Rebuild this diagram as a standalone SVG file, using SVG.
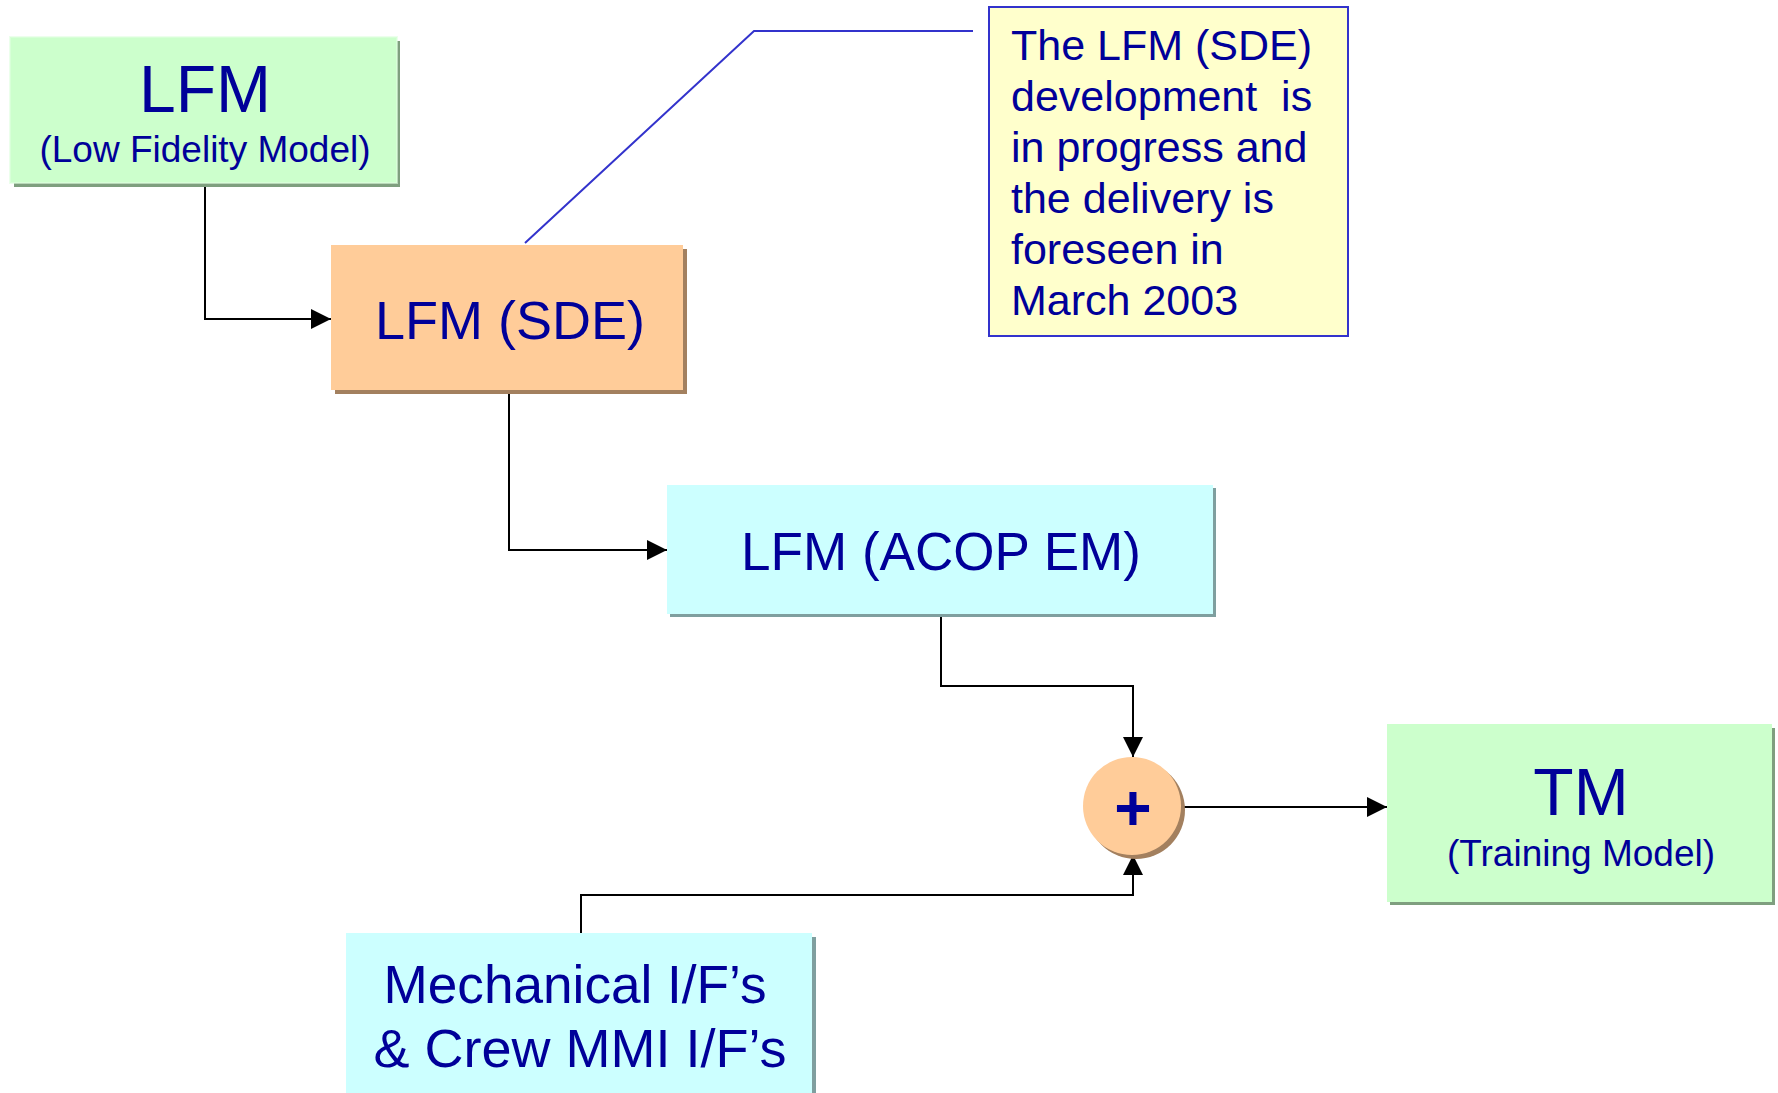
<svg xmlns="http://www.w3.org/2000/svg" width="1778" height="1093" viewBox="0 0 1778 1093">
<defs>
<style>
text{font-family:"Liberation Sans",Arial,sans-serif;fill:#000099;}
.c{text-anchor:middle;}
.conn{fill:none;stroke:#000;stroke-width:2;}
.green{fill:#ccffcc;}
.orange{fill:#ffcc99;}
.cyan{fill:#ccffff;}
.shg{fill:#7f9f7f;}
.sho{fill:#a3805f;}
.shc{fill:#7f9f9f;}
</style>
<marker id="arr" viewBox="0 0 20 20" refX="20" refY="10" markerWidth="20" markerHeight="20" markerUnits="userSpaceOnUse" orient="auto">
<path d="M0,0 L20,10 L0,20 Z" fill="#000"/>
</marker>
</defs>
<rect width="1778" height="1093" fill="#fff"/>

<g id="connectors">
<path class="conn" d="M205,184 V319 H331" marker-end="url(#arr)"/>
<path class="conn" d="M509,391 V550 H667" marker-end="url(#arr)"/>
<path class="conn" d="M941,616 V686 H1133 V757" marker-end="url(#arr)"/>
<path class="conn" d="M581,933 V895 H1133 V855" marker-end="url(#arr)"/>
<path class="conn" d="M1181,807 H1387" marker-end="url(#arr)"/>
<path d="M525,243 L754,31 H973" fill="none" stroke="#3333cc" stroke-width="2"/>
</g>

<g id="lfm">
<rect class="shg" x="14" y="41" width="386" height="146"/>
<rect class="green" x="10" y="37" width="387" height="146"/>
<rect x="10" y="37" width="387" height="146" fill="none" stroke="#e0ffe0" stroke-width="2" opacity="0.6"/>
<text class="c" x="205" y="112" font-size="66">LFM</text>
<text class="c" x="205" y="162" font-size="37">(Low Fidelity Model)</text>
</g>

<g id="lfm-sde">
<rect class="sho" x="335" y="249" width="352" height="145"/>
<rect class="orange" x="331" y="245" width="352" height="145"/>
<text class="c" x="510" y="339" font-size="54">LFM (SDE)</text>
</g>

<g id="lfm-acop">
<rect class="shc" x="670" y="488" width="546" height="129"/>
<rect class="cyan" x="667" y="485" width="546" height="129"/>
<text class="c" x="941" y="570" font-size="54" textLength="400" lengthAdjust="spacingAndGlyphs">LFM (ACOP EM)</text>
</g>

<g id="sum">
<circle cx="1136" cy="810" r="49" fill="#a3805f"/>
<circle cx="1132" cy="806" r="49" class="orange"/>
<text class="c" x="1133" y="830" font-size="64" font-weight="bold">+</text>
</g>

<g id="tm">
<rect class="shg" x="1390" y="728" width="385" height="177"/>
<rect class="green" x="1387" y="724" width="385" height="178"/>
<text class="c" x="1581" y="815" font-size="66">TM</text>
<text class="c" x="1581" y="866" font-size="37">(Training Model)</text>
</g>

<g id="mech">
<rect class="shc" x="350" y="937" width="466" height="160"/>
<rect class="cyan" x="346" y="933" width="466" height="165"/>
<text class="c" x="575" y="1003" font-size="54" textLength="383" lengthAdjust="spacingAndGlyphs">Mechanical I/F’s</text>
<text class="c" x="580" y="1067" font-size="54">&amp; Crew MMI I/F’s</text>
</g>

<g id="note">
<rect x="989" y="7" width="359" height="329" fill="#ffffcc" stroke="#3333cc" stroke-width="2"/>
<text x="1011" y="60" font-size="43">The LFM (SDE)</text>
<text x="1011" y="111" font-size="43" xml:space="preserve">development  is</text>
<text x="1011" y="162" font-size="43">in progress and</text>
<text x="1011" y="213" font-size="43">the delivery is</text>
<text x="1011" y="264" font-size="43">foreseen in</text>
<text x="1011" y="315" font-size="43">March 2003</text>
</g>
</svg>
